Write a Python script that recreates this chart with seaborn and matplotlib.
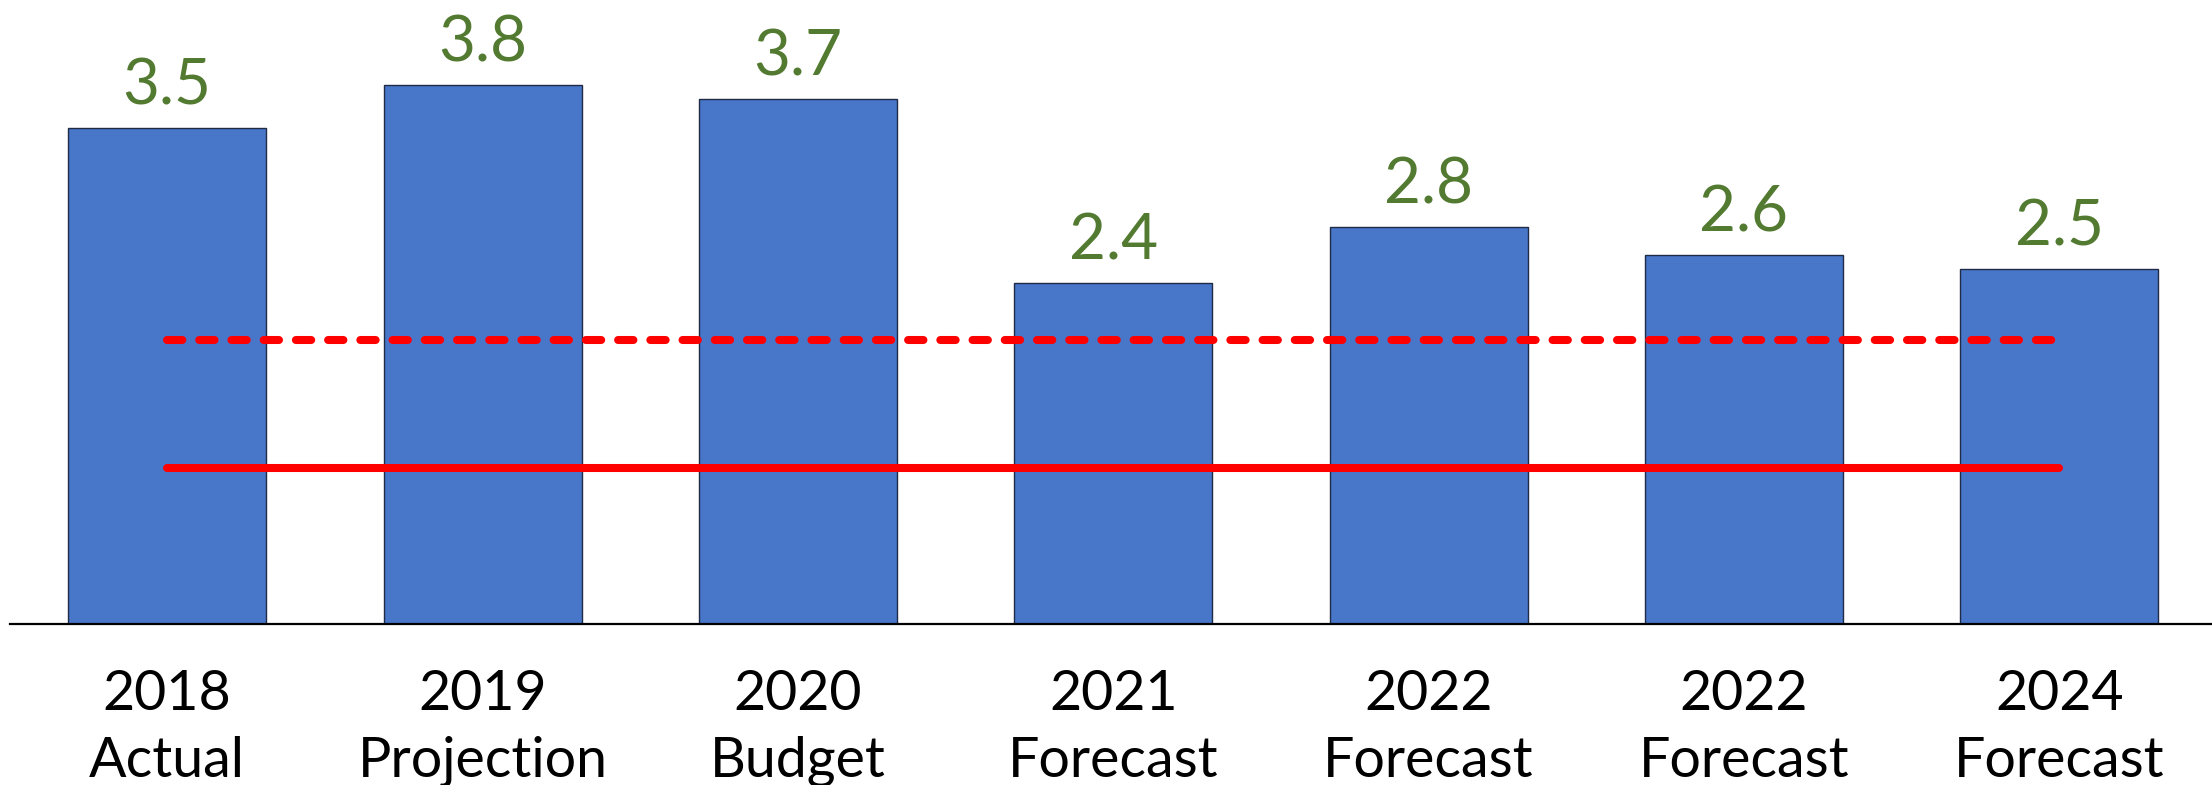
import matplotlib
matplotlib.use("Agg")
import matplotlib.pyplot as plt
import seaborn as sns
import pandas as pd

categories = ["2018\nActual", "2019\nProjection", "2020\nBudget", "2021\nForecast",
              "2022\nForecast", "2022\nForecast", "2024\nForecast"]
values = [3.5, 3.8, 3.7, 2.4, 2.8, 2.6, 2.5]
dashed_level = [2.0, 2.0, 2.0, 2.0, 2.0, 2.0, 2.0]
solid_level = [1.1, 1.1, 1.1, 1.1, 1.1, 1.1, 1.1]

sns.set_theme(style="white")
plt.rcParams["font.family"] = ["Lato", "DejaVu Sans"]

W, H, DPI = 2212, 785, 100
fig = plt.figure(figsize=(W / DPI, H / DPI), dpi=DPI)
left = 9.5 / W
bottom = (H - 623.5) / H
ax = fig.add_axes([left, bottom, (2217 - 9.5) / W, 1 - bottom])

pos = list(range(len(categories)))
df = pd.DataFrame({"pos": pos, "value": values,
                   "dashed": dashed_level, "solid": solid_level})

sns.barplot(data=df, x="pos", y="value", color="#4877CA", saturation=1,
            width=0.628, edgecolor="#1F2A44", linewidth=1.0, ax=ax)

sns.lineplot(data=df, x="pos", y="dashed", color="#FF0000", linewidth=5.8,
             linestyle=(0, (1.9, 2.1)), dash_capstyle="round", ax=ax)
sns.lineplot(data=df, x="pos", y="solid", color="#FF0000", linewidth=5.8,
             solid_capstyle="round", ax=ax)

ax.bar_label(ax.containers[0], labels=[f"{v:.1f}" for v in values],
             padding=9, fontsize=46, color="#527A30")

ax.set_xlim(-0.5, 6.5)
ax.set_ylim(0, 4.4)
ax.set_xticks(pos)
ax.set_xticklabels(categories, fontsize=40, color="black", linespacing=1.38)
ax.tick_params(axis="x", length=0, pad=33)
ax.set_yticks([])
ax.set_xlabel("")
ax.set_ylabel("")
for s in ["top", "left", "right"]:
    ax.spines[s].set_visible(False)
ax.spines["bottom"].set_color("black")
ax.spines["bottom"].set_linewidth(1.6)

fig.savefig("out.png", dpi=DPI)
